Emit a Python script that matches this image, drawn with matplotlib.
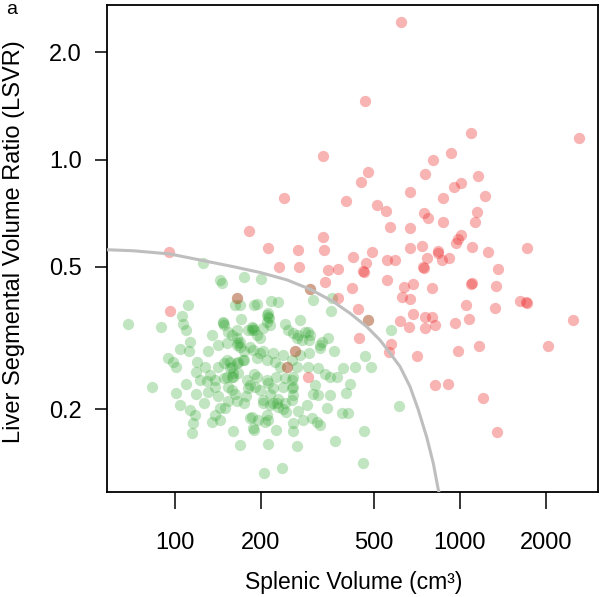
import matplotlib
matplotlib.use("Agg")
import matplotlib.pyplot as plt
from matplotlib.ticker import FixedLocator, FixedFormatter, NullLocator

plt.rcParams['font.family'] = ['Liberation Sans', 'DejaVu Sans']

# ---- data (splenic volume cm3, LSVR) ----
red_x = [621, 464, 1093, 2616, 331, 930, 804, 476, 449, 753, 1157, 953, 1008, 668, 1224,
         241, 398, 872, 512, 550, 748, 772, 1148, 1128, 872, 568, 668, 182, 331, 1008,
         984, 968, 735, 212, 270, 333, 491, 668, 837, 1102, 1254, 1719, 95.2, 421, 554,
         591, 766, 837, 865, 915, 741, 748, 1360, 554, 684, 636, 797, 1102, 1093, 1338,
         626, 668, 1050, 1326, 1624, 1719, 1705, 684, 616, 662, 753, 797, 817, 753, 960,
         1075, 2492, 573, 564, 706, 984, 1167, 2036, 817, 908, 1205, 1349, 232, 272, 344,
         373, 336, 418, 468, 457, 461, 298, 373, 165, 476, 439, 442, 96, 264, 247, 293]
red_y = [2.43, 1.46, 1.19, 1.15, 1.02, 1.04, 1.00, 0.92, 0.865, 0.91, 0.90, 0.84, 0.86, 0.81, 0.79,
         0.78, 0.765, 0.78, 0.746, 0.718, 0.708, 0.686, 0.713, 0.668, 0.668, 0.647, 0.643, 0.631, 0.607, 0.615,
         0.599, 0.584, 0.572, 0.565, 0.558, 0.558, 0.551, 0.565, 0.554, 0.569, 0.551, 0.565, 0.551, 0.533, 0.523,
         0.523, 0.530, 0.547, 0.523, 0.530, 0.500, 0.497, 0.494, 0.460, 0.448, 0.439, 0.437, 0.451, 0.448, 0.442,
         0.412, 0.407, 0.391, 0.384, 0.402, 0.396, 0.399, 0.369, 0.353, 0.340, 0.362, 0.362, 0.344, 0.337, 0.348,
         0.358, 0.355, 0.304, 0.289, 0.282, 0.291, 0.300, 0.300, 0.234, 0.235, 0.215, 0.1725, 0.500, 0.500, 0.490,
         0.494, 0.454, 0.437, 0.513, 0.487, 0.484, 0.434, 0.409, 0.409, 0.355, 0.381, 0.316, 0.377, 0.291, 0.262, 0.246]

green_x = [125, 144, 146, 175, 200, 355, 306, 353, 573, 111, 106, 107, 68.2, 89.3, 162, 169, 190, 194, 217, 230,
           210, 214, 211, 171, 147, 149, 187, 189, 158, 165, 199, 243, 250, 260, 271, 293, 296, 267, 278, 323,
           327, 345, 361, 296, 113, 104, 112, 131, 142, 152, 165, 169, 174, 188, 204, 221, 240, 275, 94.7, 98.6,
           101, 119, 127, 149, 156, 174, 194, 210, 224, 234, 267, 293, 318, 389, 428, 464, 487, 350, 371, 411,
           397, 306, 318, 227, 243, 260, 194, 179, 167, 158, 152, 138, 129, 154, 158, 181, 191, 212, 240, 259,
           260, 215, 204, 221, 243, 257, 290, 341, 384, 405, 271, 302, 314, 186, 196, 174, 165, 144, 138, 134.5,
           118.5, 126, 104, 101, 82.8, 113, 117.5, 116, 115, 160, 189, 212, 227, 259, 259, 267, 212, 364, 462, 613,
           458, 206, 238, 336, 282, 210, 215, 230, 240, 221, 210, 144, 133, 138, 150, 154, 162, 148, 160, 183,
           188, 207, 204, 154, 165, 194, 183, 152, 165, 142, 156, 215, 204, 286, 298, 323, 199, 257, 147, 212,
           188, 166, 173, 160, 183, 228, 257, 298, 165, 476, 264, 247,
           169, 212, 186, 166, 158.5, 189, 199, 230, 257, 245, 178, 142, 131, 122, 109, 118.5, 109, 135, 275,
           310, 350, 323, 169, 180]
green_y = [0.512, 0.460, 0.452, 0.470, 0.462, 0.409, 0.404, 0.377, 0.332, 0.391, 0.365, 0.346, 0.346, 0.339, 0.391,
           0.391, 0.391, 0.394, 0.402, 0.400, 0.367, 0.359, 0.351, 0.357, 0.351, 0.344, 0.340, 0.333, 0.322, 0.316,
           0.316, 0.346, 0.333, 0.326, 0.322, 0.329, 0.312, 0.316, 0.312, 0.302, 0.309, 0.317, 0.291, 0.287, 0.309,
           0.294, 0.290, 0.290, 0.302, 0.306, 0.302, 0.299, 0.290, 0.293, 0.290, 0.287, 0.283, 0.283, 0.278, 0.271,
           0.263, 0.271, 0.263, 0.269, 0.271, 0.274, 0.278, 0.274, 0.271, 0.263, 0.263, 0.263, 0.260, 0.260, 0.263,
           0.282, 0.263, 0.246, 0.246, 0.235, 0.222, 0.221, 0.219, 0.246, 0.244, 0.246, 0.246, 0.241, 0.252, 0.246,
           0.246, 0.241, 0.239, 0.231, 0.226, 0.229, 0.231, 0.236, 0.231, 0.231, 0.219, 0.221, 0.212, 0.2075, 0.2075,
           0.212, 0.205, 0.201, 0.195, 0.195, 0.197, 0.1885, 0.184, 0.190, 0.186, 0.2075, 0.210, 0.201, 0.1925, 0.184,
           0.221, 0.2075, 0.205, 0.222, 0.230, 0.199, 0.1925, 0.1825, 0.171, 0.173, 0.175, 0.186, 0.175, 0.183, 0.173,
           0.158, 0.160, 0.163, 0.174, 0.204, 0.141, 0.132, 0.1365, 0.251, 0.186, 0.1925, 0.205, 0.203, 0.200, 0.229,
           0.241, 0.186, 0.249, 0.231, 0.201, 0.210, 0.221, 0.244, 0.252, 0.1885, 0.177, 0.184, 0.2075, 0.329, 0.333,
           0.322, 0.299, 0.274, 0.269, 0.263, 0.260, 0.344, 0.337, 0.329, 0.322, 0.296, 0.287, 0.274, 0.348, 0.362,
           0.337, 0.306, 0.274, 0.246, 0.234, 0.208, 0.229, 0.434, 0.409, 0.355, 0.291, 0.262,
           0.308, 0.372, 0.333, 0.271, 0.262, 0.251, 0.226, 0.2135, 0.241, 0.196, 0.218, 0.218, 0.223, 0.241, 0.235,
           0.254, 0.333, 0.322, 0.355, 0.234, 0.219, 0.1805, 0.1586, 0.333]

# decision boundary
curve_x = [57, 71.4, 95.5, 122.4, 160, 200, 247, 298, 359, 411, 471, 524, 568, 616, 668, 714, 764, 806, 839, 858]
curve_y = [0.559, 0.555, 0.544, 0.523, 0.501, 0.482, 0.460, 0.433, 0.400, 0.371, 0.340, 0.312, 0.287, 0.263,
           0.231, 0.199, 0.167, 0.141, 0.119, 0.111]

x_ticks = [100, 200, 500, 1000, 2000]
x_ticklabels = ['100', '200', '500', '1000', '2000']
y_ticks = [0.2, 0.5, 1.0, 2.0]
y_ticklabels = ['0.2', '0.5', '1.0', '2.0']

fig = plt.figure(figsize=(6, 5.97), dpi=100)
ax = fig.add_axes([0.1783, 0.1759, 0.8183, 0.8157])
ax.set_xscale('log')
ax.set_yscale('log')
ax.set_xlim(57.7, 3050)
ax.set_ylim(0.1171, 2.709)

ax.scatter(green_x, green_y, s=66, color=(0.2, 0.65, 0.2), alpha=0.3, linewidths=0, zorder=2)
ax.scatter(red_x, red_y, s=66, color=(0.93, 0.2, 0.2), alpha=0.37, linewidths=0, zorder=3)
ax.plot(curve_x, curve_y, color='#BEBEBE', lw=2.2, zorder=4, solid_capstyle='butt')

ax.xaxis.set_major_locator(FixedLocator(x_ticks))
ax.xaxis.set_major_formatter(FixedFormatter(x_ticklabels))
ax.yaxis.set_major_locator(FixedLocator(y_ticks))
ax.yaxis.set_major_formatter(FixedFormatter(y_ticklabels))
ax.xaxis.set_minor_locator(NullLocator())
ax.yaxis.set_minor_locator(NullLocator())

ax.tick_params(axis='x', direction='out', length=12, width=1.1, pad=17, labelsize=17)
ax.tick_params(axis='y', direction='out', length=9, width=1.1, pad=9, labelsize=17)
for sp in ax.spines.values():
    sp.set_linewidth(1.3)

fig.text(354 / 600, 1 - 583 / 597, 'Splenic Volume (cm³)', ha='center', va='center', fontsize=16.5)
fig.text(14 / 600, 1 - 242 / 597, 'Liver Segmental Volume Ratio (LSVR)', ha='center', va='center',
         rotation=90, fontsize=17)
fig.text(6 / 600, 1 - 10 / 597, 'a', ha='left', va='center', fontsize=14)

fig.savefig('out.png', dpi=100)
